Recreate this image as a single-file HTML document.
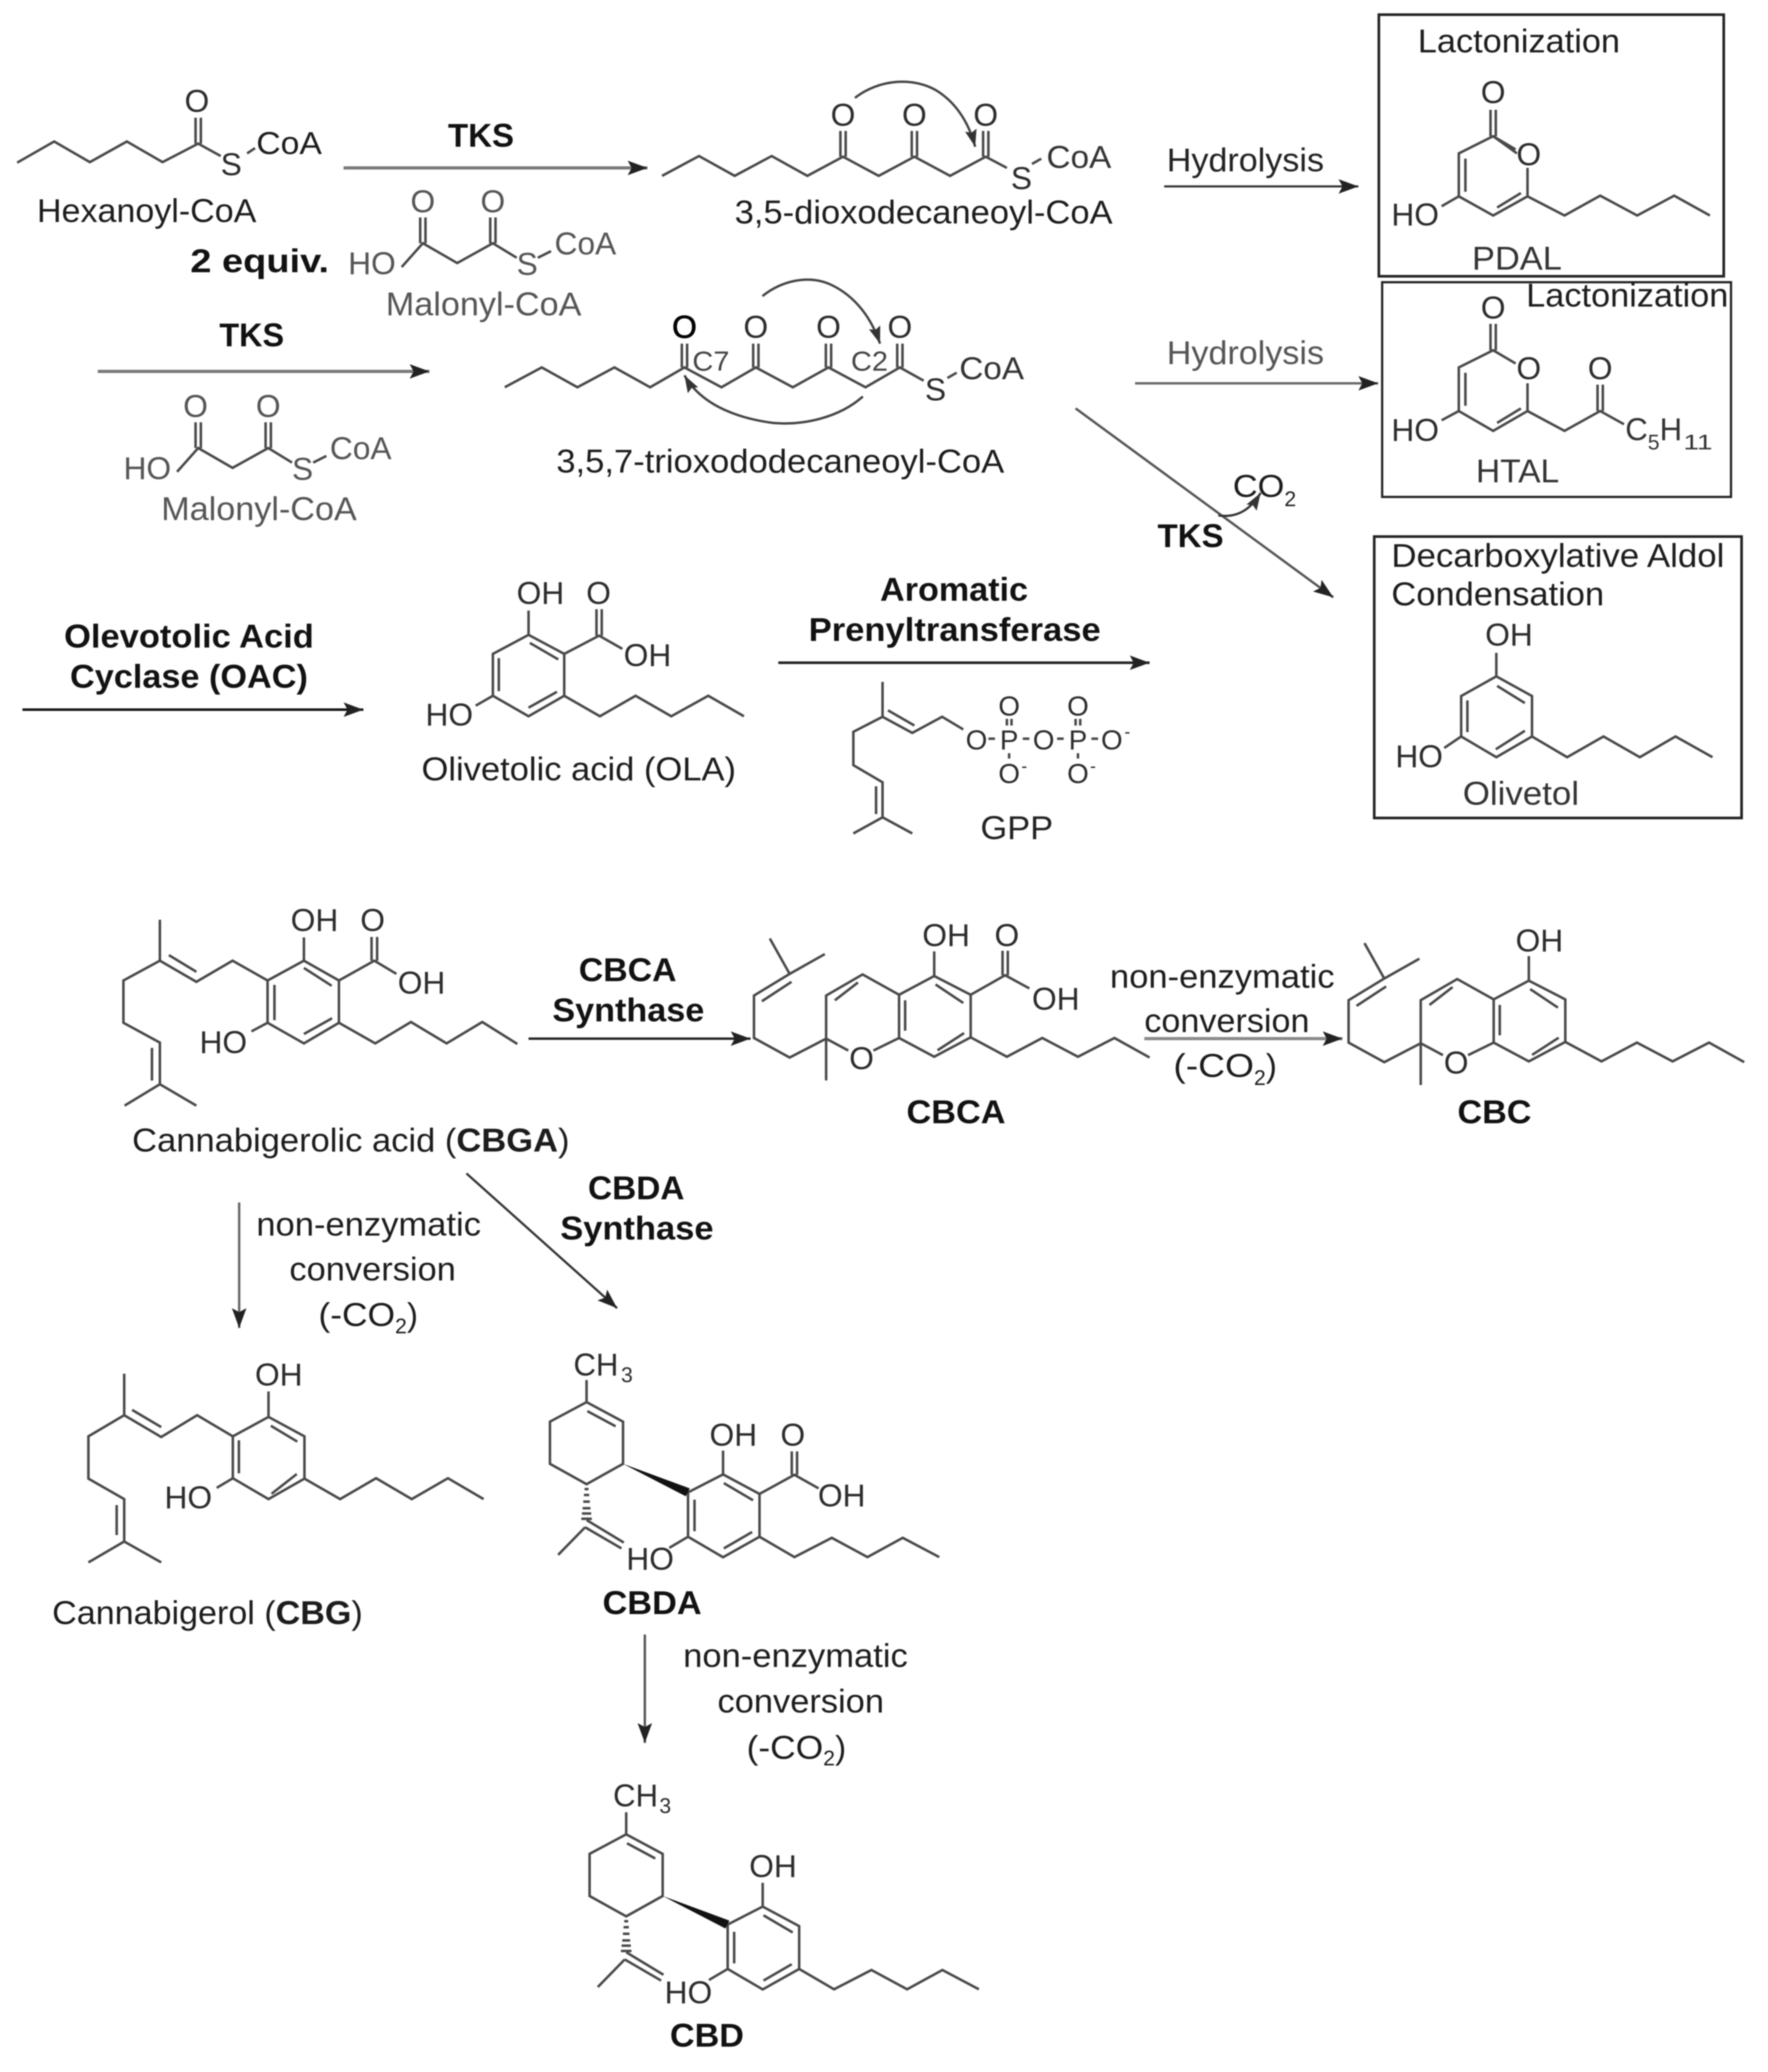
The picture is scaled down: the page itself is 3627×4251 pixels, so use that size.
<!DOCTYPE html>
<html>
<head>
<meta charset="utf-8">
<style>
html,body{margin:0;padding:0;background:#fff;}
svg{display:block;filter:blur(1.2px);}
text{font-family:"Liberation Sans",sans-serif;fill:#1c1c1c;}
.l{font-size:25px;}
.b{font-size:25px;font-weight:bold;fill:#111;}
.a{font-size:24px;text-anchor:middle;fill:#2c2c2c;}
.g{fill:#555;}
.s{font-size:16px;}
.st{fill:none;stroke:#484848;stroke-width:1.9;stroke-linejoin:miter;stroke-linecap:butt;}
</style>
</head>
<body>
<svg xmlns="http://www.w3.org/2000/svg" width="3627" height="4251" viewBox="0 0 1338 1568">
<defs>
<marker id="m" markerUnits="userSpaceOnUse" markerWidth="18" markerHeight="14" refX="15" refY="7" orient="auto"><path d="M0,1.5 L15,7 L0,12.5 L3,7 Z" fill="#222"/></marker>
<marker id="c" markerUnits="userSpaceOnUse" markerWidth="16" markerHeight="12" refX="13" refY="6" orient="auto"><path d="M0,1.5 L13,6 L0,10.5 L2,6 Z" fill="#333"/></marker>
<g id="malo" class="st">
<path d="M304,202 L320,184 L346,199 L373,184 L391,195 M407,195 L417,190"/>
<path d="M318,184 V164.5 M322,184 V164.5 M371,184 V164.5 M375,184 V164.5"/>
</g>
<g id="cbd-core" class="st">
<path d="M442.4,1042 V1058.7"/>
<path d="M442.4,1058.7 L470,1073.5 V1105.4 L442.4,1120.8 L414.7,1105.4 V1073.5 Z"/>
<path d="M443,1065.5 L464.4,1077"/>
<path d="M442.5,1148 L470.6,1165 M441.3,1153.4 L468.8,1169.4 M441.3,1153.4 L420.9,1174.3"/>
<path d="M440.9,1124.5 H443.9 M440.4,1129 H444.4 M439.9,1134 H444.9 M439.4,1139 H445.4 M438.9,1143 H445.9 M438.4,1147 H446.4"/>
<path d="M519.2,1127 L545.7,1113.4 L573.3,1128.2 V1160.6 L545.7,1176.1 L519.2,1160.6 Z"/>
<path d="M546.3,1120 L568.4,1133 M524.1,1132.5 V1156.4 M546.3,1169.4 L567.7,1157"/>
<path d="M545.7,1113.4 V1095.4 M519.2,1160.6 L505,1169"/>
<path d="M573.3,1160.6 L599.7,1176 L628,1161.4 L655,1176 L681.7,1161.4 L709.3,1176"/>
<polygon points="470,1105.4 520.5,1124 517.5,1130" fill="#111" stroke="none"/>
</g>
<g id="cbc-core" class="st">
<path d="M582.6,710.2 L597.6,737 L624.2,722 M597.6,737 L570.6,753.4 V785.5 L597.6,800.3 L625.2,786 V753.4 L652.8,737.4 L680.4,752.8 V785.5 L661,795 M625.2,786 V817.6 M625.2,786 L642,795"/>
<path d="M576.6,757.7 L599,743 M631.8,757 L649.3,743.5"/>
<path d="M680.4,752.8 L707,738.6 L734.6,752.8 V785 L707,799.7 L680.4,785.5 M707,738.6 V720"/>
<path d="M708,745 L729,759 M685,757 V780 M709.5,794.8 L729.6,781.8"/>
<path d="M734.6,785 L762,799.7 L788.8,785.5 L815.8,799.7 L843.4,785.5 L870,800.3"/>
</g>
</defs>

<!-- boxes -->
<g fill="none" stroke="#222">
<rect x="1043.5" y="11" width="261" height="198" stroke-width="2"/>
<rect x="1046" y="213.5" width="264" height="162.5" stroke-width="1.7"/>
<rect x="1040" y="406" width="278" height="213" stroke-width="2"/>
</g>

<!-- Hexanoyl-CoA -->
<g class="st">
<path d="M13,123 L41,107 L68,122.6 L96,107 L123,122.6 L150,108.6 L167,118 M187,116 L193,112"/>
<path d="M148,108.6 V89 M152,108.6 V89"/>
</g>
<text class="a" x="149" y="84.5">O</text>
<text class="a" x="175" y="132.5">S</text>
<text class="l" x="194" y="116.5" textLength="49.6" lengthAdjust="spacingAndGlyphs" style="font-size:24px">CoA</text>
<text class="l" x="28" y="168" textLength="166" lengthAdjust="spacingAndGlyphs">Hexanoyl-CoA</text>
<text class="b" x="144" y="206" textLength="105" lengthAdjust="spacingAndGlyphs">2 equiv.</text>

<!-- TKS arrow 1 -->
<text class="b" x="339" y="111" textLength="50" lengthAdjust="spacingAndGlyphs">TKS</text>
<line x1="260" y1="127" x2="490" y2="127" stroke="#777" stroke-width="2.4" marker-end="url(#m)"/>

<!-- Malonyl 1 -->
<g>
<use href="#malo"/>
<text class="a g" x="320" y="160.5">O</text>
<text class="a g" x="373" y="160.5">O</text>
<text class="a g" x="281.5" y="207.5">HO</text>
<text class="a g" x="399" y="208">S</text>
<text class="a g" x="443" y="192.5">CoA</text>
<text class="l g" x="292" y="238.5" textLength="148" lengthAdjust="spacingAndGlyphs">Malonyl-CoA</text>
</g>
<!-- Malonyl 2 -->
<g transform="translate(-170,155)">
<use href="#malo"/>
<text class="a g" x="318" y="160.5">O</text>
<text class="a g" x="373" y="160.5">O</text>
<text class="a g" x="281.5" y="207.5">HO</text>
<text class="a g" x="399" y="208">S</text>
<text class="a g" x="443" y="192.5">CoA</text>
<text class="l g" x="292" y="238.5" textLength="148" lengthAdjust="spacingAndGlyphs">Malonyl-CoA</text>
</g>

<text class="b" x="166" y="262" textLength="49" lengthAdjust="spacingAndGlyphs">TKS</text>
<line x1="74" y1="281" x2="325" y2="281" stroke="#777" stroke-width="2.4" marker-end="url(#m)"/>

<!-- 3,5-dioxo -->
<g class="st">
<path d="M501,133 L529,118 L556,133 L584,118 L611,133 L638,118.5 L665,133 L692,118.5 L719,133 L746,118.5 L762,127 M781,124 L788,120"/>
<path d="M636,118.5 V99 M640,118.5 V99 M690,118.5 V99 M694,118.5 V99 M744,118.5 V99 M748,118.5 V99"/>
</g>
<path d="M647,74 C665,60 690,58 708,68 C723,77 733,92 738,111" fill="none" stroke="#444" stroke-width="1.8" marker-end="url(#c)"/>
<text class="a" x="638" y="95">O</text>
<text class="a" x="692" y="95">O</text>
<text class="a" x="746" y="95">O</text>
<text class="a" x="773" y="143">S</text>
<text class="l" x="792" y="127" textLength="49" lengthAdjust="spacingAndGlyphs" style="font-size:24px;fill:#333">CoA</text>
<text class="l" x="556" y="169" textLength="286" lengthAdjust="spacingAndGlyphs">3,5-dioxodecaneoyl-CoA</text>

<!-- 3,5,7-trioxo -->
<g class="st">
<path d="M382,293 L410,278 L437,293 L465,278 L492,293 L518,278 L546,293 L572,278 L600,293 L627,278 L655,293 L681,278 L699,288 M717,286 L724,282"/>
<path d="M516,278 V260 M520,278 V260 M570,278 V260 M574,278 V260 M625,278 V260 M629,278 V260 M679,278 V260 M683,278 V260"/>
</g>
<path d="M577,224 C592,212 612,208 628,215 C648,224 660,242 666,260" fill="none" stroke="#444" stroke-width="1.8" marker-end="url(#c)"/>
<path d="M653,300 C635,316 608,322 585,320 C555,316 530,305 518,284" fill="none" stroke="#444" stroke-width="1.8" marker-end="url(#c)"/>
<text class="a" x="518" y="255.5" style="fill:#000;stroke:#000;stroke-width:.5">O</text>
<text class="a" x="572" y="255.5">O</text>
<text class="a" x="627" y="255.5">O</text>
<text class="a" x="681" y="255.5">O</text>
<text class="a" x="708" y="303">S</text>
<text class="l" x="726" y="287" textLength="49" lengthAdjust="spacingAndGlyphs" style="font-size:24px;fill:#333">CoA</text>
<text class="l" x="524" y="280.5" textLength="28" lengthAdjust="spacingAndGlyphs" style="font-size:21px;fill:#444">C7</text>
<text class="l" x="644" y="280.5" textLength="28" lengthAdjust="spacingAndGlyphs" style="font-size:21px;fill:#444">C2</text>
<text class="l" x="421" y="357.5" textLength="339" lengthAdjust="spacingAndGlyphs">3,5,7-trioxododecaneoyl-CoA</text>

<!-- Hydrolysis arrows -->
<text class="l" x="883" y="129.5" textLength="119" lengthAdjust="spacingAndGlyphs" style="fill:#222">Hydrolysis</text>
<line x1="881" y1="141" x2="1028" y2="141" stroke="#333" stroke-width="1.6" marker-end="url(#m)"/>
<text class="l g" x="883" y="275.5" textLength="119" lengthAdjust="spacingAndGlyphs">Hydrolysis</text>
<line x1="859" y1="290" x2="1043" y2="290" stroke="#666" stroke-width="1.8" marker-end="url(#m)"/>

<!-- TKS diagonal -->
<line x1="814" y1="309" x2="1009" y2="452" stroke="#555" stroke-width="1.8" marker-end="url(#m)"/>
<text class="b" x="876" y="414" textLength="50" lengthAdjust="spacingAndGlyphs">TKS</text>
<path d="M922,390 C936,392 946,386 954,373" fill="none" stroke="#333" stroke-width="1.7" marker-end="url(#c)"/>
<text class="l" x="933" y="376" textLength="39" lengthAdjust="spacingAndGlyphs" style="font-size:24px">CO</text>
<text class="s" x="972" y="383" style="fill:#222">2</text>

<!-- PDAL -->
<text class="l" x="1073" y="39.5" textLength="153" lengthAdjust="spacingAndGlyphs">Lactonization</text>
<g class="st">
<path d="M1148,116 L1130,103 L1104,116 V148.5 L1130,163 L1156,148.5 V127"/>
<path d="M1109,120 V145 M1133,157 L1151,146"/>
<path d="M1128,103 V83 M1132,103 V83"/>
<path d="M1104,148.5 L1091,156"/>
<path d="M1156,148.5 L1184,163 L1211,148 L1239,163 L1267,148 L1294,163"/>
<path d="M1130,103 L1147,113"/>
</g>
<text class="a" x="1130" y="78">O</text>
<text class="a" x="1157" y="125">O</text>
<text class="a" x="1071" y="170.5">HO</text>
<text class="l" x="1114" y="204" textLength="68" lengthAdjust="spacingAndGlyphs" style="fill:#333">PDAL</text>

<!-- HTAL -->
<text class="l" x="1155" y="232" textLength="153" lengthAdjust="spacingAndGlyphs">Lactonization</text>
<g class="st">
<path d="M1147,275 L1130,265 L1104,278 V311 L1130,326 L1156,311 V290"/>
<path d="M1109,282 V307 M1133,320 L1151,309"/>
<path d="M1128,265 V245 M1132,265 V245"/>
<path d="M1104,311 L1091,318"/>
<path d="M1156,311 L1184,326 L1211,311 L1229,321"/>
<path d="M1209,311 V291 M1213,311 V291"/>
</g>
<text class="a" x="1130" y="241">O</text>
<text class="a" x="1157" y="287">O</text>
<text class="a" x="1211" y="287">O</text>
<text class="a" x="1071" y="333.5">HO</text>
<text class="l" x="1230" y="333" textLength="17" lengthAdjust="spacingAndGlyphs" style="font-size:24px;fill:#333">C</text>
<text class="s" x="1247" y="340" style="fill:#333">5</text>
<text class="l" x="1256" y="333" textLength="17" lengthAdjust="spacingAndGlyphs" style="font-size:24px;fill:#333">H</text>
<text class="s" x="1274" y="340" textLength="22" lengthAdjust="spacingAndGlyphs" style="fill:#333">11</text>
<text class="l" x="1117" y="365" textLength="63" lengthAdjust="spacingAndGlyphs" style="fill:#333">HTAL</text>

<!-- Olivetol -->
<text class="l" x="1053" y="429" textLength="252" lengthAdjust="spacingAndGlyphs">Decarboxylative Aldol</text>
<text class="l" x="1053" y="458" textLength="161" lengthAdjust="spacingAndGlyphs">Condensation</text>
<g class="st">
<path d="M1132.4,511.8 L1159.4,526.7 V557.3 L1132.4,573 L1105.8,557.3 V526.7 Z"/>
<path d="M1133,519 L1154,532 M1110.5,530 V554 M1132,567 L1154,553"/>
<path d="M1132.4,511.8 V494 M1105.8,557.3 L1093,566"/>
<path d="M1159.4,557.3 L1186,573 L1213.5,557.3 L1241,573 L1268,557.3 L1296,573"/>
</g>
<text class="a" x="1142" y="488.5">OH</text>
<text class="a" x="1074" y="580.5">HO</text>
<text class="l" x="1107" y="609" textLength="88" lengthAdjust="spacingAndGlyphs" style="fill:#333">Olivetol</text>

<!-- OAC -->
<text class="b" x="48.5" y="490" textLength="189" lengthAdjust="spacingAndGlyphs">Olevotolic Acid</text>
<text class="b" x="53" y="520.5" textLength="180" lengthAdjust="spacingAndGlyphs">Cyclase (OAC)</text>
<line x1="17" y1="537" x2="275" y2="537" stroke="#111" stroke-width="1.9" marker-end="url(#m)"/>

<!-- OLA -->
<g class="st" transform="translate(1,1)">
<path d="M399,479.4 L426,493.8 V525.5 L399,541 L372,525.5 V493.8 Z"/>
<path d="M400,485.5 L421.5,498 M376.5,497 V522 M399,534.5 L420.5,522.5"/>
<path d="M399,479.4 V461 M372,525.5 L359,533"/>
<path d="M426,493.8 L452.4,480 L470,490 M450.4,480 V460 M454.4,480 V460"/>
<path d="M426,525.5 L453,541 L480,525.5 L507,541 L535,525.5 L562,541"/>
</g>
<text class="a" x="409" y="457">OH</text>
<text class="a" x="453" y="457">O</text>
<text class="a" x="490" y="504">OH</text>
<text class="a" x="340" y="549">HO</text>
<text class="l" x="319" y="590.5" textLength="238" lengthAdjust="spacingAndGlyphs">Olivetolic acid (OLA)</text>

<!-- Prenyltransferase -->
<text class="b" x="666" y="454.5" textLength="112" lengthAdjust="spacingAndGlyphs">Aromatic</text>
<text class="b" x="612" y="485" textLength="221" lengthAdjust="spacingAndGlyphs">Prenyltransferase</text>
<line x1="589" y1="501.5" x2="870" y2="501.5" stroke="#222" stroke-width="2" marker-end="url(#m)"/>

<!-- GPP -->
<g class="st">
<path d="M667.9,516 V542.4 L690.4,554.6 L713,542.4 L729,552"/>
<path d="M672,537.5 L692,549"/>
<path d="M667.9,542.4 L645.8,553.8 V579 L667.9,592 V618.5"/>
<path d="M663,595 V616"/>
<path d="M645.8,630.7 L667.9,618.5 L690.4,630.7"/>
<path d="M762,544 V549 M765.5,544 V549 M814,544 V549 M817.5,544 V549"/>
<path d="M763.7,570 V574 M815.8,570 V574"/>
<path d="M748,559 H753 M774,559 H779 M800,559 H805 M826,559 H831"/>
</g>
<text class="a" x="763.7" y="541.5" style="font-size:21px">O</text>
<text class="a" x="815.8" y="541.5" style="font-size:21px">O</text>
<text class="a" x="739" y="567" style="font-size:21px">O</text>
<text class="a" x="763.7" y="567" style="font-size:21px">P</text>
<text class="a" x="789.8" y="567" style="font-size:21px">O</text>
<text class="a" x="815.8" y="567" style="font-size:21px">P</text>
<text class="a" x="841.4" y="567" style="font-size:21px">O</text>
<text class="a" x="763.7" y="592.5" style="font-size:21px">O</text>
<text class="a" x="815.8" y="592.5" style="font-size:21px">O</text>
<text x="851" y="558" style="font-size:13px">-</text>
<text x="773" y="584" style="font-size:13px">-</text>
<text x="825" y="584" style="font-size:13px">-</text>
<text class="l" x="742" y="635" textLength="55" lengthAdjust="spacingAndGlyphs" style="fill:#222">GPP</text>

<!-- CBGA -->
<g class="st" transform="translate(1,1)">
<path d="M120,695 V726 L147.6,742 L175,726 L201.5,741 L229,726 L255.5,741 V773 L229,788.6 L201.5,773 V741"/>
<path d="M126.8,721.8 L147.6,734.4"/>
<path d="M229,731.5 L250,745 M206.7,744.3 V771 M229,781.5 L250.3,769.6"/>
<path d="M229,726 V708.4 M201.5,773 L189.3,779.5"/>
<path d="M255.5,741 L282.3,726 L299,736 M280.2,726 V708 M284.4,726 V708"/>
<path d="M255.5,773 L283,788.6 L310,772.4 L337,788.6 L364,772.4 L390.5,789"/>
<path d="M120,726 L92.4,741 V773 L120,788 V819.5 L93.3,835.7 M120,819.5 L147.6,835.7 M114,792 V816.7"/>
</g>
<text class="a" x="238" y="704.5">OH</text>
<text class="a" x="282" y="704.5">O</text>
<text class="a" x="319" y="752">OH</text>
<text class="a" x="169" y="797">HO</text>
<text class="l" x="100" y="871.5" textLength="331" lengthAdjust="spacingAndGlyphs">Cannabigerolic acid (<tspan font-weight="bold">CBGA</tspan>)</text>

<!-- CBCA arrow -->
<text class="b" x="438" y="742.5" textLength="74" lengthAdjust="spacingAndGlyphs">CBCA</text>
<text class="b" x="418" y="773" textLength="115" lengthAdjust="spacingAndGlyphs">Synthase</text>
<line x1="400" y1="786" x2="568" y2="786" stroke="#222" stroke-width="1.8" marker-end="url(#m)"/>

<!-- CBCA -->
<use href="#cbc-core"/>
<g class="st">
<path d="M734.6,752.8 L760.7,738 L779,748 M758.7,738 V719.5 M762.7,738 V719.5"/>
</g>
<text class="a" x="652" y="809">O</text>
<text class="a" x="716" y="716">OH</text>
<text class="a" x="762" y="716">O</text>
<text class="a" x="799" y="764">OH</text>
<text class="b" x="686" y="850" textLength="75" lengthAdjust="spacingAndGlyphs">CBCA</text>

<!-- non-enzymatic (CBC) -->
<text class="l" x="840" y="747.5" textLength="170" lengthAdjust="spacingAndGlyphs">non-enzymatic</text>
<text class="l" x="866" y="781" textLength="125" lengthAdjust="spacingAndGlyphs">conversion</text>
<text class="l" x="888" y="815" textLength="61" lengthAdjust="spacingAndGlyphs">(-CO</text>
<text class="s" x="949" y="821">2</text>
<text class="l" x="958" y="815">)</text>
<line x1="866" y1="786" x2="1016" y2="786" stroke="#888" stroke-width="2.4" marker-end="url(#m)"/>

<!-- CBC -->
<g transform="translate(450,3.5)"><use href="#cbc-core"/></g>
<text class="a" x="1102" y="812.5">O</text>
<text class="a" x="1165" y="720">OH</text>
<text class="b" x="1103" y="850" textLength="56" lengthAdjust="spacingAndGlyphs">CBC</text>

<!-- Down arrow to CBG -->
<line x1="181" y1="910" x2="181" y2="1005" stroke="#666" stroke-width="1.8" marker-end="url(#m)"/>
<text class="l" x="194" y="935" textLength="170" lengthAdjust="spacingAndGlyphs">non-enzymatic</text>
<text class="l" x="219" y="969" textLength="126" lengthAdjust="spacingAndGlyphs">conversion</text>
<text class="l" x="241" y="1003.5" textLength="58" lengthAdjust="spacingAndGlyphs">(-CO</text>
<text class="s" x="299" y="1009">2</text>
<text class="l" x="308" y="1003.5">)</text>

<!-- CBG -->
<g class="st" transform="translate(1,1)">
<path d="M93,1038.6 V1070 L121,1086.5 L148.2,1070 L175.2,1086 L202.2,1071.3 L229.4,1086 V1118 L202.2,1133.5 L175.2,1117.7 V1086"/>
<path d="M99,1066 L121,1079"/>
<path d="M204,1078 L224,1090 M179.8,1089 V1114 M204.5,1129.5 L223.6,1114.5"/>
<path d="M202.2,1071.3 V1052 M175.2,1117.7 L163,1125"/>
<path d="M229.4,1118 L256.4,1133.5 L283.6,1117.7 L310.6,1133.5 L338,1117.7 L365,1133.5"/>
<path d="M93,1070 L65.9,1086 V1118 L93,1133.5 V1165.6 L65.9,1181.4 M93,1165.6 L121,1181.4 M87.3,1138 V1160.7"/>
</g>
<text class="a" x="211" y="1048.5">OH</text>
<text class="a" x="142.5" y="1141.5">HO</text>
<text class="l" x="39.5" y="1229" textLength="235" lengthAdjust="spacingAndGlyphs">Cannabigerol (<tspan font-weight="bold">CBG</tspan>)</text>

<!-- CBDA arrow -->
<line x1="353" y1="888" x2="467" y2="990" stroke="#333" stroke-width="1.7" marker-end="url(#m)"/>
<text class="b" x="445" y="907.5" textLength="73" lengthAdjust="spacingAndGlyphs">CBDA</text>
<text class="b" x="424" y="938" textLength="116" lengthAdjust="spacingAndGlyphs">Synthase</text>

<!-- CBDA -->
<g transform="translate(1.5,2.4)">
<use href="#cbd-core"/>
<g class="st">
<path d="M573.3,1128.2 L599.7,1113.7 L618,1124 M597.7,1113.7 V1096 M601.7,1113.7 V1096"/>
</g>
</g>
<text class="l" x="434" y="1041" textLength="34" lengthAdjust="spacingAndGlyphs" style="font-size:24px;fill:#2c2c2c">CH</text>
<text class="s" x="470" y="1046" style="fill:#2c2c2c">3</text>
<text class="a" x="555" y="1094">OH</text>
<text class="a" x="600" y="1094">O</text>
<text class="a" x="637" y="1140">OH</text>
<text class="a" x="492" y="1188">HO</text>
<text class="b" x="456" y="1221.5" textLength="75" lengthAdjust="spacingAndGlyphs">CBDA</text>

<!-- CBD arrow -->
<line x1="488" y1="1237" x2="488" y2="1319" stroke="#555" stroke-width="1.8" marker-end="url(#m)"/>
<text class="l" x="517" y="1261.5" textLength="170" lengthAdjust="spacingAndGlyphs">non-enzymatic</text>
<text class="l" x="543" y="1296" textLength="126" lengthAdjust="spacingAndGlyphs">conversion</text>
<text class="l" x="565" y="1331" textLength="58" lengthAdjust="spacingAndGlyphs">(-CO</text>
<text class="s" x="623" y="1336">2</text>
<text class="l" x="632" y="1331">)</text>

<!-- CBD -->
<g transform="translate(31.5,329.5)"><use href="#cbd-core"/></g>
<text class="l" x="464" y="1367" textLength="34" lengthAdjust="spacingAndGlyphs" style="font-size:24px;fill:#2c2c2c">CH</text>
<text class="s" x="499" y="1372" style="fill:#2c2c2c">3</text>
<text class="a" x="585" y="1420.5">OH</text>
<text class="a" x="521" y="1516">HO</text>
<text class="b" x="507" y="1549" textLength="56" lengthAdjust="spacingAndGlyphs">CBD</text>
</svg>
</body>
</html>
